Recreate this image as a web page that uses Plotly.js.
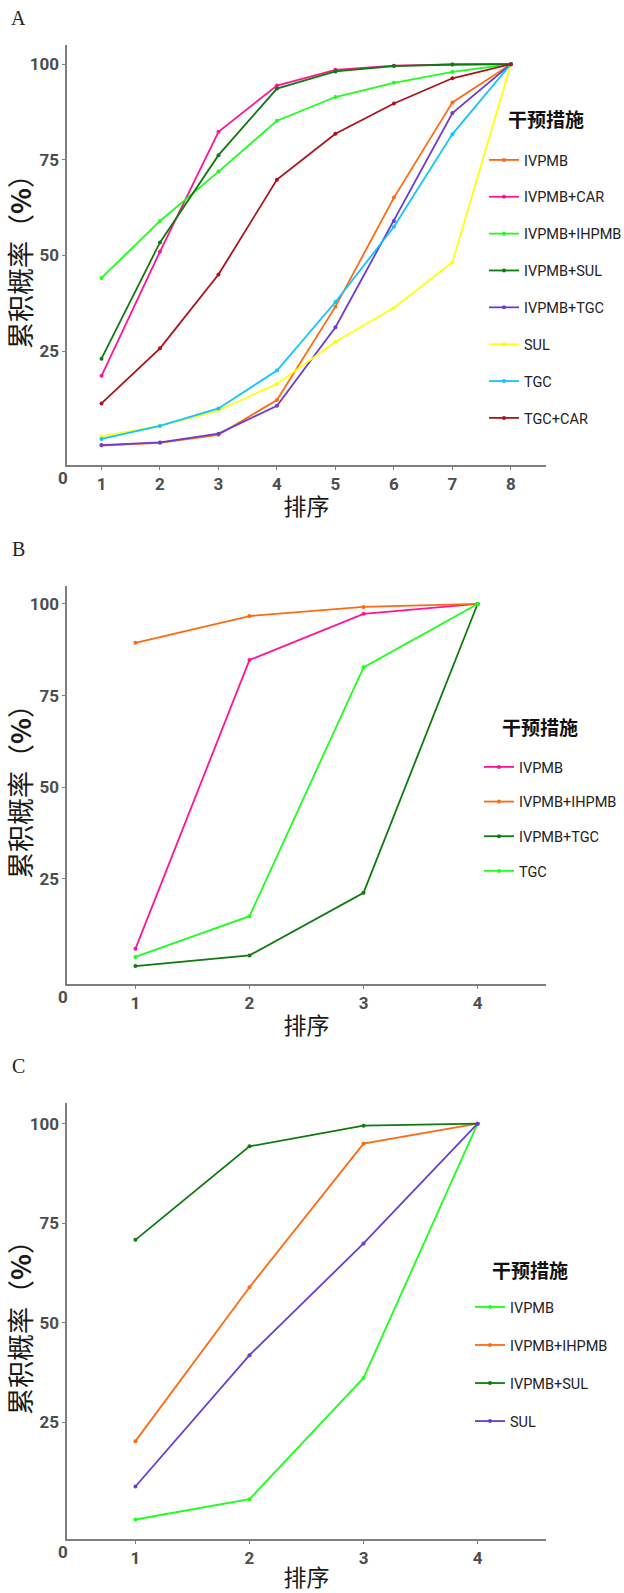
<!DOCTYPE html>
<html>
<head>
<meta charset="utf-8">
<script src="https://cdn.plot.ly/plotly-3.0.1.min.js"></script>
<style>html,body{margin:0;padding:0;background:#fff;}#chart{width:624px;height:1593px;}</style>
</head>
<body>
<div id="chart"></div>
<script>
// ---------- DATA ----------
const ranksA = [1, 2, 3, 4, 5, 6, 7, 8];
const ranksBC = [1, 2, 3, 4];
const xTicksA = [1, 2, 3, 4, 5, 6, 7, 8];
const xTicksBC = [1, 2, 3, 4];
const yTicks = [25, 50, 75, 100];

// Panel A
const namesA = ["IVPMB", "IVPMB+CAR", "IVPMB+IHPMB", "IVPMB+SUL", "IVPMB+TGC", "SUL", "TGC", "TGC+CAR"];
const a_IVPMB       = [0.3, 1.0, 3.1, 12.2, 36.6, 65.1, 90.0, 100];
const a_IVPMB_CAR   = [18.5, 51.0, 82.3, 94.4, 98.5, 99.6, 99.9, 100];
const a_IVPMB_IHPMB = [44.1, 59.0, 71.9, 85.2, 91.4, 95.1, 98.0, 100];
const a_IVPMB_SUL   = [23.0, 53.4, 76.2, 93.6, 98.1, 99.5, 99.9, 100];
const a_IVPMB_TGC   = [0.4, 1.1, 3.4, 10.7, 31.2, 59.0, 87.2, 100];
const a_SUL         = [2.7, 5.4, 9.5, 16.4, 27.4, 36.3, 48.2, 100];
const a_TGC         = [2.0, 5.4, 10.0, 19.9, 37.8, 57.5, 81.7, 100];
const a_TGC_CAR     = [11.3, 25.7, 45.0, 69.8, 81.8, 89.7, 96.3, 100];

// Panel B
const namesB = ["IVPMB", "IVPMB+IHPMB", "IVPMB+TGC", "TGC"];
const b_IVPMB       = [5.9, 84.7, 97.3, 100];
const b_IVPMB_IHPMB = [89.4, 96.7, 99.2, 100];
const b_IVPMB_TGC   = [1.2, 4.1, 21.2, 100];
const b_TGC         = [3.7, 14.8, 82.7, 100];

// Panel C
const namesC = ["IVPMB", "IVPMB+IHPMB", "IVPMB+SUL", "SUL"];
const c_IVPMB       = [0.5, 5.6, 36.1, 100];
const c_IVPMB_IHPMB = [20.2, 58.9, 95.0, 100];
const c_IVPMB_SUL   = [70.8, 94.3, 99.5, 100];
const c_SUL         = [8.8, 41.8, 69.9, 100];

const panelLabels = ["A", "B", "C"];
const legendTitle = "干预措施";
const xTitle = "排序";
const yTitle = "累积概率（<b>%</b>）";

// ---------- STYLE ----------
const colorsA = ["#FF6A10", "#FF1493", "#1EFF1E", "#0F7A0F", "#6A3CD4", "#FFFF10", "#10C4FF", "#A8141A"];
const colorsB = ["#FF1493", "#FF6A10", "#0F7A0F", "#1EFF1E"];
const colorsC = ["#1EFF1E", "#FF6A10", "#0F7A0F", "#6A3CD4"];

const W = 624, H = 1593;
const NARROW = "Roboto, Liberation Sans, sans-serif";
const CJK = "Noto Sans CJK SC, sans-serif";
const SERIF = "Liberation Serif, DejaVu Serif, serif";

function mk(x, y, name, color, xa, ya, leg, grp) {
  return {
    x: x, y: y, name: name, type: "scatter", mode: "lines+markers",
    line: {color: color, width: 1.8},
    marker: {color: color, size: 4},
    xaxis: xa, yaxis: ya, legend: leg, legendgroup: grp,
    hoverinfo: "x+y+name"
  };
}

const seriesA = [a_IVPMB, a_IVPMB_CAR, a_IVPMB_IHPMB, a_IVPMB_SUL, a_IVPMB_TGC, a_SUL, a_TGC, a_TGC_CAR];
const seriesB = [b_IVPMB, b_IVPMB_IHPMB, b_IVPMB_TGC, b_TGC];
const seriesC = [c_IVPMB, c_IVPMB_IHPMB, c_IVPMB_SUL, c_SUL];

const traces = [];
seriesA.forEach((s, i) => traces.push(mk(ranksA, s, namesA[i], colorsA[i], "x", "y", "legend", "a" + i)));
seriesB.forEach((s, i) => traces.push(mk(ranksBC, s, namesB[i], colorsB[i], "x2", "y2", "legend2", "b" + i)));
seriesC.forEach((s, i) => traces.push(mk(ranksBC, s, namesC[i], colorsC[i], "x3", "y3", "legend3", "c" + i)));

function px2x(p) { return p / W; }
function px2y(p) { return 1 - p / H; }

const tickFont = {family: NARROW, size: 17, color: "#4d4d4d", weight: "bold"};

function xax(domain, range, ticks, anchor) {
  return {
    domain: domain, range: range, anchor: anchor,
    tickmode: "array", tickvals: ticks, ticktext: ticks.map(String),
    showline: true, linecolor: "#7f7f7f", linewidth: 1.6,
    ticks: "outside", ticklen: 3, tickcolor: "#7f7f7f", tickwidth: 1,
    tickfont: tickFont, automargin: false,
    showgrid: false, zeroline: false, fixedrange: true,
    title: {text: xTitle, font: {family: CJK, size: 23, color: "#1a1a1a"}, standoff: 6}
  };
}
function yax(domain, range, anchor) {
  return {
    domain: domain, range: range, anchor: anchor,
    tickmode: "array", tickvals: yTicks, ticktext: yTicks.map(String),
    showline: true, linecolor: "#7f7f7f", linewidth: 1.6,
    ticks: "outside", ticklen: 3, tickcolor: "#7f7f7f", tickwidth: 1,
    tickfont: tickFont, automargin: false,
    showgrid: false, zeroline: false, fixedrange: true,
    title: {text: yTitle, font: {family: CJK, size: 27, color: "#1a1a1a"}, standoff: 2}
  };
}
function leg(xp, yp, gap) {
  return {
    x: px2x(xp), y: px2y(yp), xanchor: "left", yanchor: "top",
    bgcolor: "rgba(0,0,0,0)", borderwidth: 0,
    traceorder: "grouped", tracegroupgap: gap, itemwidth: 30,
    font: {family: NARROW, size: 14.5, color: "#222222"}
  };
}
function ann(text, xp, yp, font, xanchor) {
  return {text: text, x: px2x(xp), y: px2y(yp), xref: "paper", yref: "paper",
    xanchor: xanchor || "center", yanchor: "middle", showarrow: false, font: font};
}
const labFont = {family: SERIF, size: 20, color: "#222"};
const legTitleFont = {family: CJK, size: 19, color: "#111111", weight: "bold"};

const xDom = [px2x(67), px2x(546)];
const layout = {
  width: W, height: H,
  margin: {l: 0, r: 0, t: 0, b: 0, autoexpand: false},
  paper_bgcolor: "#ffffff", plot_bgcolor: "#ffffff",
  showlegend: true,
  xaxis: xax(xDom, [0.41, 8.6], xTicksA, "y"),
  yaxis: yax([px2y(465), px2y(45)], [-4.8, 105], "x"),
  xaxis2: xax(xDom, [0.4, 4.6], xTicksBC, "y2"),
  yaxis2: yax([px2y(984), px2y(586)], [-3.7, 104.9], "x2"),
  xaxis3: xax(xDom, [0.4, 4.6], xTicksBC, "y3"),
  yaxis3: yax([px2y(1539), px2y(1103)], [-4.4, 105.2], "x3"),
  legend: leg(484, 144, 15),
  legend2: leg(479, 751, 12.8),
  legend3: leg(470, 1291, 16.2),
  annotations: [
    ann(panelLabels[0], 18, 18, labFont),
    ann(panelLabels[1], 18, 549, labFont),
    ann(panelLabels[2], 18, 1066, labFont),
    ann(legendTitle, 506, 118, legTitleFont, "left"),
    ann(legendTitle, 500, 726, legTitleFont, "left"),
    ann(legendTitle, 490, 1269, legTitleFont, "left"),
    ann("0", 63, 478, tickFont),
    ann("0", 63, 997, tickFont),
    ann("0", 63, 1552, tickFont)
  ]
};

Plotly.newPlot("chart", traces, layout, {displayModeBar: false, staticPlot: true});
</script>
</body>
</html>
